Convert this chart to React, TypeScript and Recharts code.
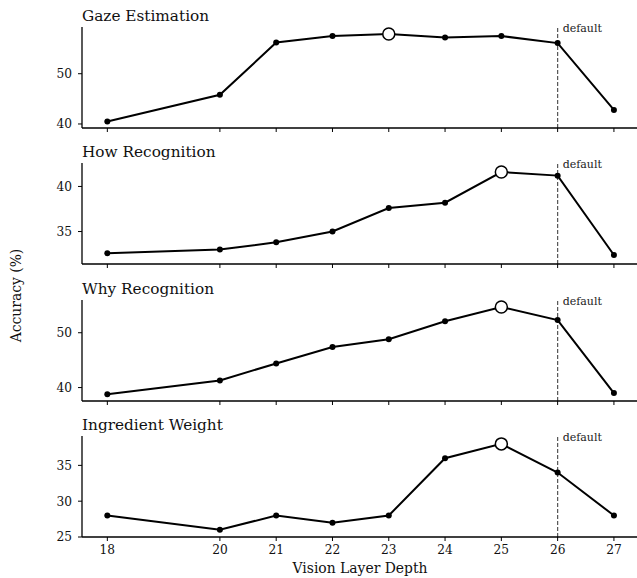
import { LineChart, Line, XAxis, YAxis, ReferenceLine } from 'recharts';

// Vision layer depth (x) and accuracy per task
const layers = [18, 20, 21, 22, 23, 24, 25, 26, 27];
const gaze = [40.5, 45.8, 56.2, 57.5, 57.9, 57.2, 57.5, 56.1, 42.8];
const how = [32.6, 33.0, 33.8, 35.0, 37.6, 38.2, 41.6, 41.2, 32.4];
const why = [38.8, 41.3, 44.4, 47.4, 48.8, 52.1, 54.7, 52.3, 39.0];
const weight = [28, 26, 28, 27, 28, 36, 38, 34, 28];

const titles = ['Gaze Estimation', 'How Recognition', 'Why Recognition', 'Ingredient Weight'];
const yTicks = [[40, 50], [35, 40], [40, 50], [25, 30, 35]];
const yDomains: [number, number][] = [[39.2, 59.3], [31.4, 42.6], [37.55, 55.97], [25, 39.1]];
const xTicks = [18, 20, 21, 22, 23, 24, 25, 26, 27];
const defaultLayer = 26;

const FONT = 'DejaVu Serif';
const W = 637;
const PLOT_LEFT = 82;
const PLOT_H = 101;
const TOP_PAD = 28;
const panelTops = [27, 163, 300, 436];

function Panel({ values, index }: { values: number[]; index: number }) {
  const data = layers.map((x, i) => ({ x, y: values[i] }));
  const best = values.indexOf(Math.max(...values));
  const isLast = index === 3;
  const xAxisH = isLast ? 24 : 8;

  const dot = (p: any) =>
    p.index === best ? (
      <circle key={`d${p.index}`} cx={p.cx} cy={p.cy} r={6} fill="#fff" stroke="#000" strokeWidth={1.5} />
    ) : (
      <circle key={`d${p.index}`} cx={p.cx} cy={p.cy} r={3} fill="#000" />
    );

  return (
    <div style={{ position: 'absolute', left: 0, top: panelTops[index] - TOP_PAD }}>
      <LineChart
        width={W}
        height={TOP_PAD + PLOT_H + xAxisH}
        data={data}
        margin={{ top: TOP_PAD, right: 0, left: 0, bottom: 0 }}
      >
        <XAxis
          dataKey="x"
          type="number"
          domain={[17.55, 27.41]}
          allowDataOverflow
          ticks={xTicks}
          height={xAxisH}
          stroke="#000"
          strokeWidth={1.3}
          tickSize={4}
          tickMargin={4}
          tickLine={{ stroke: '#000', strokeWidth: 1 }}
          tick={isLast ? { fill: '#111', fontSize: 12.2, fontFamily: FONT } : () => <g />}
        />
        <YAxis
          type="number"
          domain={yDomains[index]}
          allowDataOverflow
          ticks={yTicks[index]}
          width={PLOT_LEFT}
          stroke="#000"
          strokeWidth={1.3}
          tickSize={4}
          tickMargin={6}
          tickLine={{ stroke: '#000', strokeWidth: 1 }}
          tick={{ fill: '#111', fontSize: 12.2, fontFamily: FONT }}
        />
        <ReferenceLine
          x={defaultLayer}
          stroke="#555"
          strokeWidth={1.2}
          strokeDasharray="4 2"
          label={(lp: any) => (
            <text
              x={lp.viewBox.x + 5}
              y={lp.viewBox.y + 5}
              fontSize={11}
              fontFamily={FONT}
              fill="#222"
            >
              default
            </text>
          )}
        />
        <Line
          dataKey="y"
          stroke="#000"
          strokeWidth={2}
          dot={dot}
          activeDot={false}
          isAnimationActive={false}
        />
      </LineChart>
    </div>
  );
}

export default function App() {
  const series = [gaze, how, why, weight];
  return (
    <div style={{ position: 'absolute', left: 0, top: 0, width: W, height: 578, background: '#fff' }}>
      {series.map((s, i) => (
        <Panel key={titles[i]} values={s} index={i} />
      ))}
      <svg
        width={W}
        height={578}
        style={{ position: 'absolute', left: 0, top: 0, pointerEvents: 'none' }}
        fontFamily={FONT}
      >
        {titles.map((t, i) => (
          <text key={t} x={PLOT_LEFT} y={panelTops[i] - 6.5} fontSize={15.3} fill="#111">
            {t}
          </text>
        ))}
        <text x={360} y={573} fontSize={13.9} fill="#111" textAnchor="middle">
          Vision Layer Depth
        </text>
        <text
          x={20.5}
          y={295.5}
          fontSize={13.9}
          fill="#111"
          textAnchor="middle"
          transform="rotate(-90 20.5 295.5)"
        >
          Accuracy (%)
        </text>
      </svg>
    </div>
  );
}
